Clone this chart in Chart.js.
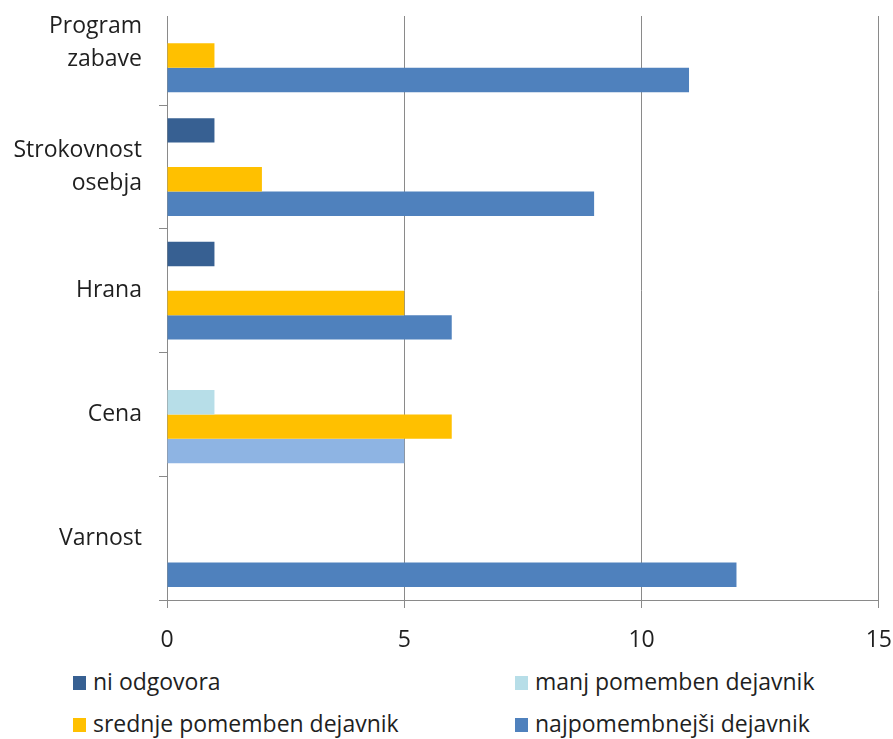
<!DOCTYPE html>
<html>
<head>
<meta charset="utf-8">
<script src="https://cdn.jsdelivr.net/npm/chart.js@4/dist/chart.umd.min.js"></script>
<style>
  html, body { margin: 0; padding: 0; background: #fff; }
  #page { position: relative; width: 893px; height: 739px; overflow: hidden; font-family: "Open Sans", sans-serif; }
  #clip { position: absolute; left: 0; top: 16px; width: 893px; height: 642px; overflow: hidden; }
  #clip canvas { position: absolute; left: 0; top: -68px; }
  .leg { position: absolute; font-size: 23px; color: #1f1f1f; white-space: nowrap; line-height: 26px; }
  .leg span.box { display: inline-block; width: 13px; height: 14px; margin-right: 7px; vertical-align: baseline; }
</style>
</head>
<body>
<div id="page">
  <div id="clip"><canvas id="myChart" width="911" height="710"></canvas></div>
  <div id="legend"></div>
</div>
<script>
// categories from top to bottom
var categories = [['Program', 'zabave'], ['Strokovnost', 'osebja'], 'Hrana', 'Cena', 'Varnost'];
var seriesNames = ['ni odgovora', 'manj pomemben dejavnik', 'srednje pomemben dejavnik', 'najpomembnejši dejavnik'];
var niOdgovora = [0, 1, 1, 0, 0];
var manjPomemben = [0, 0, 0, 1, 0];
var srednjePomemben = [1, 2, 5, 6, 0];
var najpomembnejsi = [11, 9, 6, 5, 12];
var xTicks = [0, 5, 10, 15];

var colors = ['#376092', '#B7DEE8', '#FFC000', '#4F81BD'];
var gridColor = '#8a8a8a';

var ctx = document.getElementById('myChart').getContext('2d');
var myChart = new Chart(ctx, {
  type: 'bar',
  data: {
    labels: categories,
    datasets: [
      { label: seriesNames[0], data: niOdgovora, backgroundColor: colors[0] },
      { label: seriesNames[1], data: manjPomemben, backgroundColor: colors[1] },
      { label: seriesNames[2], data: srednjePomemben, backgroundColor: colors[2] },
      // Cena bar is a lighter blue in the original
      { label: seriesNames[3], data: najpomembnejsi,
        backgroundColor: ['#4F81BD', '#4F81BD', '#4F81BD', '#8EB4E3', '#4F81BD'] }
    ]
  },
  options: {
    indexAxis: 'y',
    responsive: false,
    animation: false,
    layout: { padding: { top: 1, right: 0, left: 0, bottom: 0 } },
    datasets: { bar: { barPercentage: 1, categoryPercentage: 0.79, borderWidth: 0 } },
    plugins: { legend: { display: false }, tooltip: { enabled: false } },
    scales: {
      x: {
        min: xTicks[0], max: xTicks[xTicks.length - 1],
        afterBuildTicks: function (s) { s.ticks = xTicks.map(function (v) { return { value: v }; }); },
        afterFit: function (s) { s.height = 58; },
        grid: { color: gridColor, tickLength: 8, tickColor: gridColor },
        border: { color: gridColor },
        ticks: { color: '#1f1f1f', padding: 19, font: { family: 'Open Sans', size: 23 } }
      },
      y: {
        afterFit: function (s) { s.width = 167; },
        grid: { drawOnChartArea: false, tickLength: 8, tickColor: gridColor, offset: true },
        border: { color: gridColor },
        ticks: { color: '#1f1f1f', padding: 17, font: { family: 'Open Sans', size: 23, lineHeight: 1.43 } }
      }
    }
  }
});

// two-column legend below the chart
var legendPos = [[73, 668], [515, 668], [73, 710], [515, 710]];
var legendEl = document.getElementById('legend');
myChart.data.datasets.forEach(function (ds, i) {
  var d = document.createElement('div');
  d.className = 'leg';
  d.style.left = legendPos[i][0] + 'px';
  d.style.top = legendPos[i][1] + 'px';
  d.innerHTML = '<span class="box" style="background:' + colors[i] + '"></span>' + ds.label;
  legendEl.appendChild(d);
});
</script>
</body>
</html>
